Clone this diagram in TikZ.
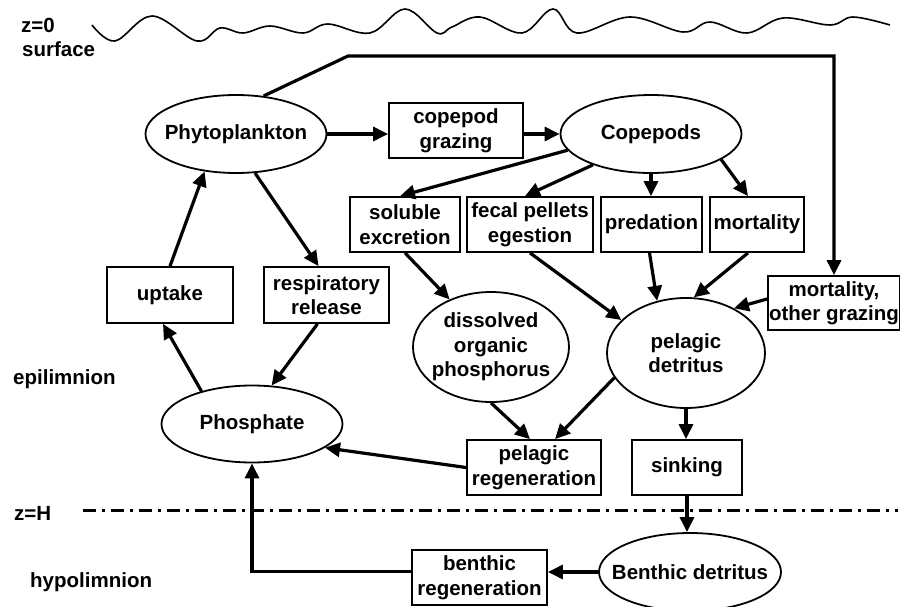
\documentclass[tikz,border=0pt]{standalone}
\usepackage{fontspec}
\setmainfont{Liberation Sans}
\usetikzlibrary{shapes.geometric,arrows.meta}
\tikzset{
  ell/.style={ellipse, draw, line width=1.8pt, inner sep=0pt},
  txt/.style={inner sep=0pt, align=center},
  box/.style={rectangle, draw, line width=1.8pt, inner sep=0pt, align=center},
  conn/.style={line width=3.2pt, -{Triangle[length=15pt,width=14pt]}},
  lab/.style={anchor=base west, inner sep=0pt},
}
\begin{document}
\begin{tikzpicture}[x=1pt, y=-1pt, font=\fontsize{20.5}{24.5}\selectfont\bfseries]
\useasboundingbox (0,0) rectangle (900,607);

% surface wave
\draw[line width=1.6pt] plot[smooth, tension=0.6] coordinates {
 (92,25) (115,41) (152,16) (197,41) (220,28) (243,33) (270,26) (303,33)
 (328,24) (370,33) (405,9) (437,33) (452,27) (480,17) (522,33) (553,9)
 (577,33) (630,17) (683,32) (710,22) (747,33) (783,18) (830,25) (853,17) (890,25)};

% layer labels
\node[lab] (z0) at (21,33) {z=0};
\node[lab] (surf) at (22,57) {surface};
\node[lab] (epi) at (13,384) {epilimnion};
\node[lab] (zH) at (14,520) {z=H};
\node[lab] (hypo) at (30,587) {hypolimnion};

% thermocline
\draw[line width=3pt, dash pattern=on 13pt off 6pt on 3pt off 6pt] (83,510) -- (898,510);

% compartments (ellipses drawn with fixed size, text set separately)
\node[ell, minimum width=181pt, minimum height=78pt] (phyto) at (236,134) {};
\node[txt] (phytoT) at (phyto) {Phytoplankton};
\node[ell, minimum width=181pt, minimum height=78pt] (cope) at (651,134) {};
\node[txt] (copeT) at (cope) {Copepods};
\node[ell, minimum width=156pt, minimum height=110pt] (dop) at (491,347) {};
\node[txt] (dopT) at (dop) {dissolved\\organic\\phosphorus};
\node[ell, minimum width=158pt, minimum height=110pt] (det) at (686,353) {};
\node[txt] (detT) at (det) {pelagic\\detritus};
\node[ell, minimum width=181pt, minimum height=77pt] (phos) at (252,424) {};
\node[txt] (phosT) at (phos) {Phosphate};
\node[ell, minimum width=182pt, minimum height=78pt] (bdet) at (690,572) {};
\node[txt] (bdetT) at (bdet) {Benthic detritus};

\node[box, minimum width=134pt, minimum height=55pt] (graz) at (456,130.5) {copepod\\grazing};
\node[box, minimum width=110pt, minimum height=55pt] (sol) at (405,224.5) {soluble\\excretion};
\node[box, minimum width=126pt, minimum height=55pt] (fecal) at (530,224.5) {fecal pellets\\egestion};
\node[box, minimum width=101pt, minimum height=55pt] (pred) at (651.5,224.5) {predation};
\node[box, minimum width=94pt, minimum height=55pt] (mort) at (757,224.5) {mortality};
\node[box, minimum width=126pt, minimum height=56pt] (upt) at (170,295) {uptake};
\node[box, minimum width=125pt, minimum height=56pt] (resp) at (326.5,295) {respiratory\\release};
\node[box, minimum width=132pt, minimum height=54pt] (mog) at (834,303) {mortality,\\other grazing};
\node[box, minimum width=134pt, minimum height=55pt] (preg) at (534,467.5) {pelagic\\regeneration};
\node[box, minimum width=110pt, minimum height=55pt] (sink) at (687,467.5) {sinking};
\node[box, minimum width=135pt, minimum height=55pt] (breg) at (479.5,577.5) {benthic\\regeneration};

\coordinate (bendA) at (348,56);

% flows
\draw[conn] (phyto.east) -- (graz.west |- phyto.east);
\draw[conn] (graz.east |- cope.west) -- (cope.west);
\draw[conn] (phyto.54) -- (bendA) -| (mog.north);
\draw[conn] (upt.north) -- (phyto.230);
\draw[conn] (phyto.296) -- ([xshift=-8pt]resp.north);
\draw[conn] (phos.147) -- ([xshift=-7pt]upt.south);
\draw[conn] ([xshift=-9pt]resp.south) -- (phos.63);
\draw[conn] (preg.west) -- (phos.342);
\draw[conn] ([yshift=6pt]breg.west) -| (phos.south);
\draw[conn] (bdet.west) -- (breg.east |- bdet.west);
\draw[conn] (sink.south) -- (sink.south |- bdet.north);
\draw[conn] (det.south) -- (det.south |- sink.north);
\draw[conn] (dop.south) -- ([xshift=-4pt]preg.north);
\draw[conn] (det.199) -- ([xshift=21pt]preg.north);
\draw[conn] (sol.south) -- (dop.131);
\draw[conn] (fecal.south) -- (det.153);
\draw[conn] ([xshift=-2pt]pred.south) -- (det.119);
\draw[conn] ([xshift=-9pt]mort.south) -- (det.82);
\draw[conn] ([yshift=4pt]mog.west) -- (det.43);
\draw[conn] (cope.191) -- ([xshift=-5pt]sol.north);
\draw[conn] (cope.208) -- ([xshift=-5pt]fecal.north);
\draw[conn] (cope.south) -- (cope.south |- pred.north);
\draw[conn] (cope.340) -- ([xshift=-9pt]mort.north);
\end{tikzpicture}
\end{document}
